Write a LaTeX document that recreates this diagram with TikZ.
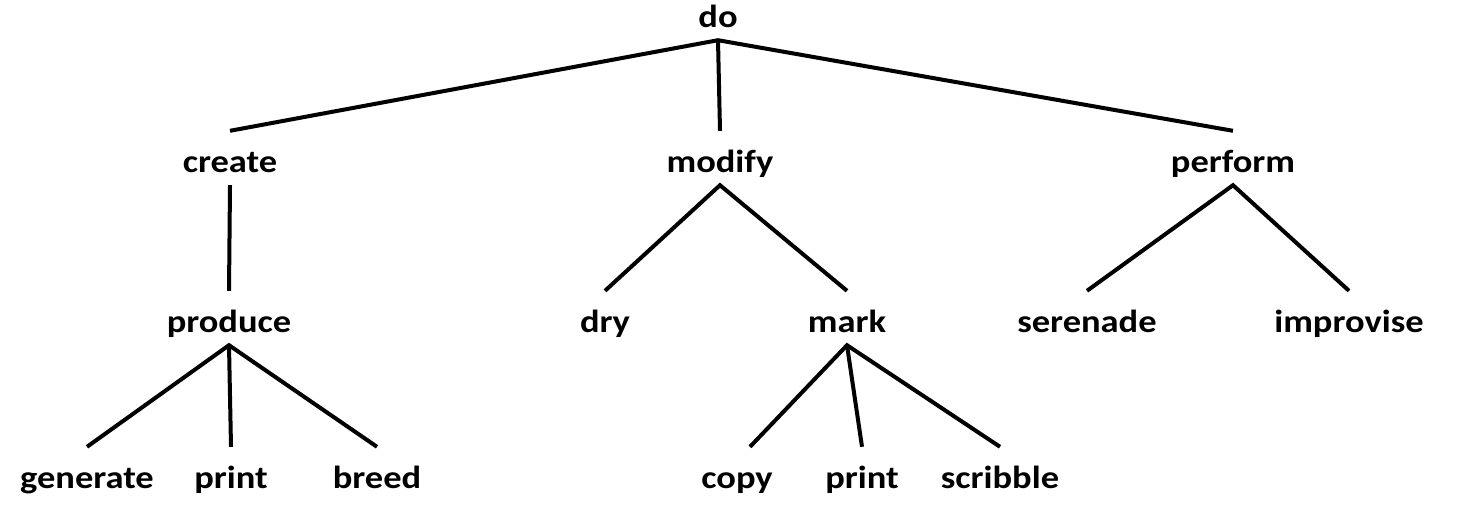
\documentclass[tikz,border=0pt]{standalone}
\usepackage{fontspec}
\setmainfont{Carlito}[FakeStretch=1.14]

\begin{document}
\begin{tikzpicture}[x = 1pt, y = -1pt, font = \fontsize{32}{38}\selectfont\bfseries,
        word/.style = {anchor = base, inner xsep = 0pt, inner ysep = 13pt, text height = 28pt, text depth = 0pt},
        branch/.style = {line width = 4pt}]
        \useasboundingbox (0,0) rectangle (1471,507);
        
        \node[word] (do) at (718,27) {do};
        
        \node[word] (create) at (230,172) {create};
        \node[word] (modify) at (720,172) {modify};
        \node[word] (perform) at (1233,172) {perform};
        
        \node[word] (produce) at (229,332) {produce};
        \node[word] (dry) at (605,332) {dry};
        \node[word] (mark) at (847,332) {mark};
        \node[word] (serenade) at (1087,332) {serenade};
        \node[word] (improvise) at (1349,332) {improvise};
        
        \node[word] (generate) at (87,488) {generate};
        \node[word] (printA) at (231,488) {print};
        \node[word] (breed) at (377,488) {breed};
        \node[word] (copy) at (737,488) {copy};
        \node[word] (printB) at (862,488) {print};
        \node[word] (scribble) at (1000,488) {scribble};
        
        \draw[branch] (create.north) -- (do.south) -- (perform.north);
        \draw[branch] (do.south) -- (modify.north);
        
        \draw[branch] (create.south) -- (produce.north);
        \draw[branch] (dry.north) -- (modify.south) -- (mark.north);
        \draw[branch] (serenade.north) -- (perform.south) -- (improvise.north);
        
        \draw[branch] (generate.north) -- (produce.south) -- (breed.north);
        \draw[branch] (produce.south) -- (printA.north);
        \draw[branch] ([xshift = 13pt]copy.north) -- (mark.south) -- (scribble.north);
        \draw[branch] (mark.south) -- (printB.north);
\end{tikzpicture}
\end{document}
